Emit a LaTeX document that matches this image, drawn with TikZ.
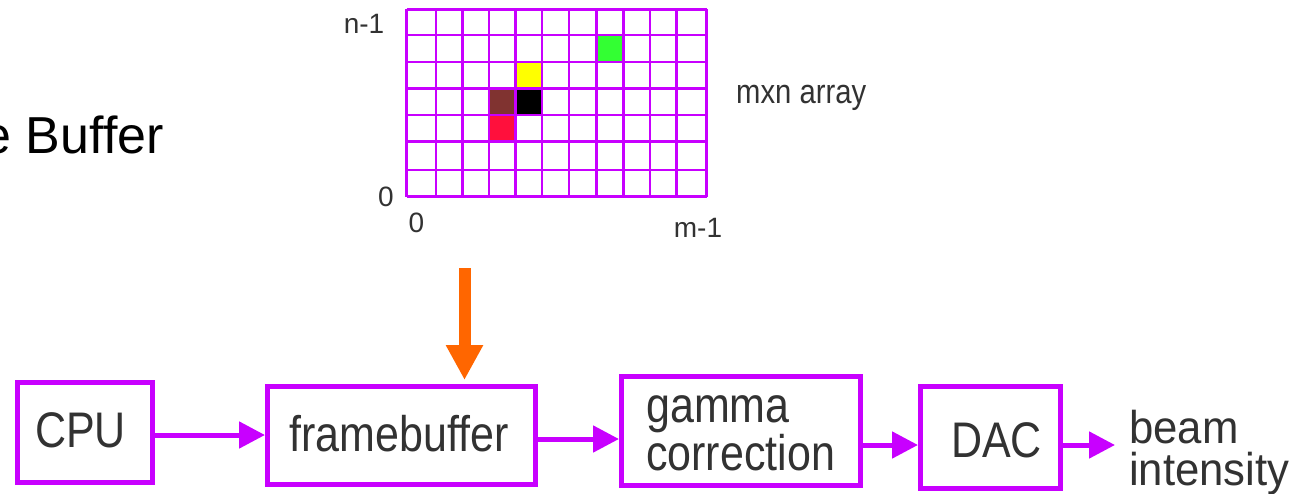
\documentclass[tikz,border=0pt]{standalone}
\usepackage{fontspec}
\usetikzlibrary{arrows.meta,calc}
\newfontfamily\arialf{Liberation Sans}
\newfontfamily\narrowf[FakeStretch=0.86]{Liberation Sans}
\newfontfamily\beamf[FakeStretch=0.95]{Liberation Sans}
\definecolor{mag}{RGB}{200,0,255}
\definecolor{orng}{RGB}{255,102,0}
\definecolor{txtg}{RGB}{50,50,50}
\definecolor{cgreen}{RGB}{51,255,51}
\definecolor{cyellow}{RGB}{255,255,0}
\definecolor{cbrown}{RGB}{128,51,48}
\definecolor{cred}{RGB}{255,16,60}
\tikzset{
  blockbox/.style={draw=mag, line width=5pt, fill=white, rectangle, inner sep=0pt},
  blocktxt/.style={inner sep=0pt, text=txtg, font=\narrowf\fontsize{50}{50}\selectfont},
  beamtxt/.style={inner sep=0pt, text=txtg, font=\beamf\fontsize{46}{46}\selectfont},
  smalltxt/.style={inner sep=0pt, text=txtg, font=\arialf\fontsize{28}{28}\selectfont},
  flow/.style={draw=mag, line width=5pt, -{Triangle[length=26pt,width=26pt]}},
  gridline/.style={draw=mag, line width=2.5pt},
}
\begin{document}
\begin{tikzpicture}[x=1pt,y=-1pt]
\useasboundingbox (0,0) rectangle (1301,493);
\clip (0,0) rectangle (1301,493);
\fill[white] (0,0) rectangle (1301,493);

% title (partly cut off)
\node[inner sep=0pt, anchor=base east, font=\arialf\fontsize{52}{52}\selectfont] (title) at (164,153) {e Buffer};

% coloured pixels
\fill[cgreen]  (596.7,35) rectangle (623.3,62);
\fill[cyellow] (515.7,62) rectangle (542,88.3);
\fill[cbrown]  (489,88.3) rectangle (515.7,115);
\fill[black]   (515.7,88.3) rectangle (542,115);
\fill[cred]    (489,115) rectangle (515.7,141.7);

% grid
\foreach \x in {406.7,436,462.7,489,515.7,542,569,596.7,623.3,650,676.7,706.7}
  \draw[gridline] (\x,9.3) -- (\x,196.7);
\foreach \y in {9.3,35,62,88.3,115,141.7,170,196.7}
  \draw[gridline] (406.7,\y) -- (706.7,\y);

% grid labels
\node[smalltxt, anchor=base] (nlab) at (364,33) {n-1};
\node[smalltxt, anchor=base] (zleft) at (386,206) {0};
\node[smalltxt, anchor=base] (zbot) at (416.5,232) {0};
\node[smalltxt, anchor=base] (mlab) at (698,237) {m-1};
\node[inner sep=0pt, text=txtg, font=\narrowf\fontsize{34}{34}\selectfont, anchor=base west] (arr) at (736,103) {mxn array};

% blocks
\node[blockbox, minimum width=135pt, minimum height=100pt] (cpu) at (85,432.5) {};
\node[blockbox, minimum width=268pt, minimum height=98pt] (fb) at (401.5,435.5) {};
\node[blockbox, minimum width=239pt, minimum height=109pt] (gam) at (741,431) {};
\node[blockbox, minimum width=140pt, minimum height=102pt] (dac) at (990.5,437.5) {};

\node[blocktxt, anchor=base] (cputxt) at (80.5,447) {CPU};
\node[blocktxt, anchor=base] (fbtxt) at (399,451) {framebuffer};
\node[blocktxt, anchor=base west] (gamtxt1) at (646,422) {gamma};
\node[blocktxt, anchor=base west] (gamtxt2) at (646,470) {correction};
\node[blocktxt, anchor=base] (dactxt) at (996.5,457) {DAC};
\node[beamtxt, anchor=base west] (beam1) at (1129,443) {beam};
\node[beamtxt, anchor=base west] (beam2) at (1129,485) {intensity};
\coordinate (beamin) at (1115,445);

% connectors
\draw[flow] (cpu.east |- 0,435) -- (fb.west |- 0,435);
\draw[flow] (fb.east |- 0,439) -- (gam.west |- 0,439);
\draw[flow] (gam.east |- 0,445) -- (dac.west |- 0,445);
\draw[flow] (dac.east |- 0,445) -- (beamin);

% orange arrow into framebuffer
\coordinate (otop) at (464.5,268);
\draw[draw=orng, line width=12pt, -{Triangle[length=35pt,width=35pt]}, shorten >=4pt] (otop) -- (otop |- fb.north);
\end{tikzpicture}
\end{document}
